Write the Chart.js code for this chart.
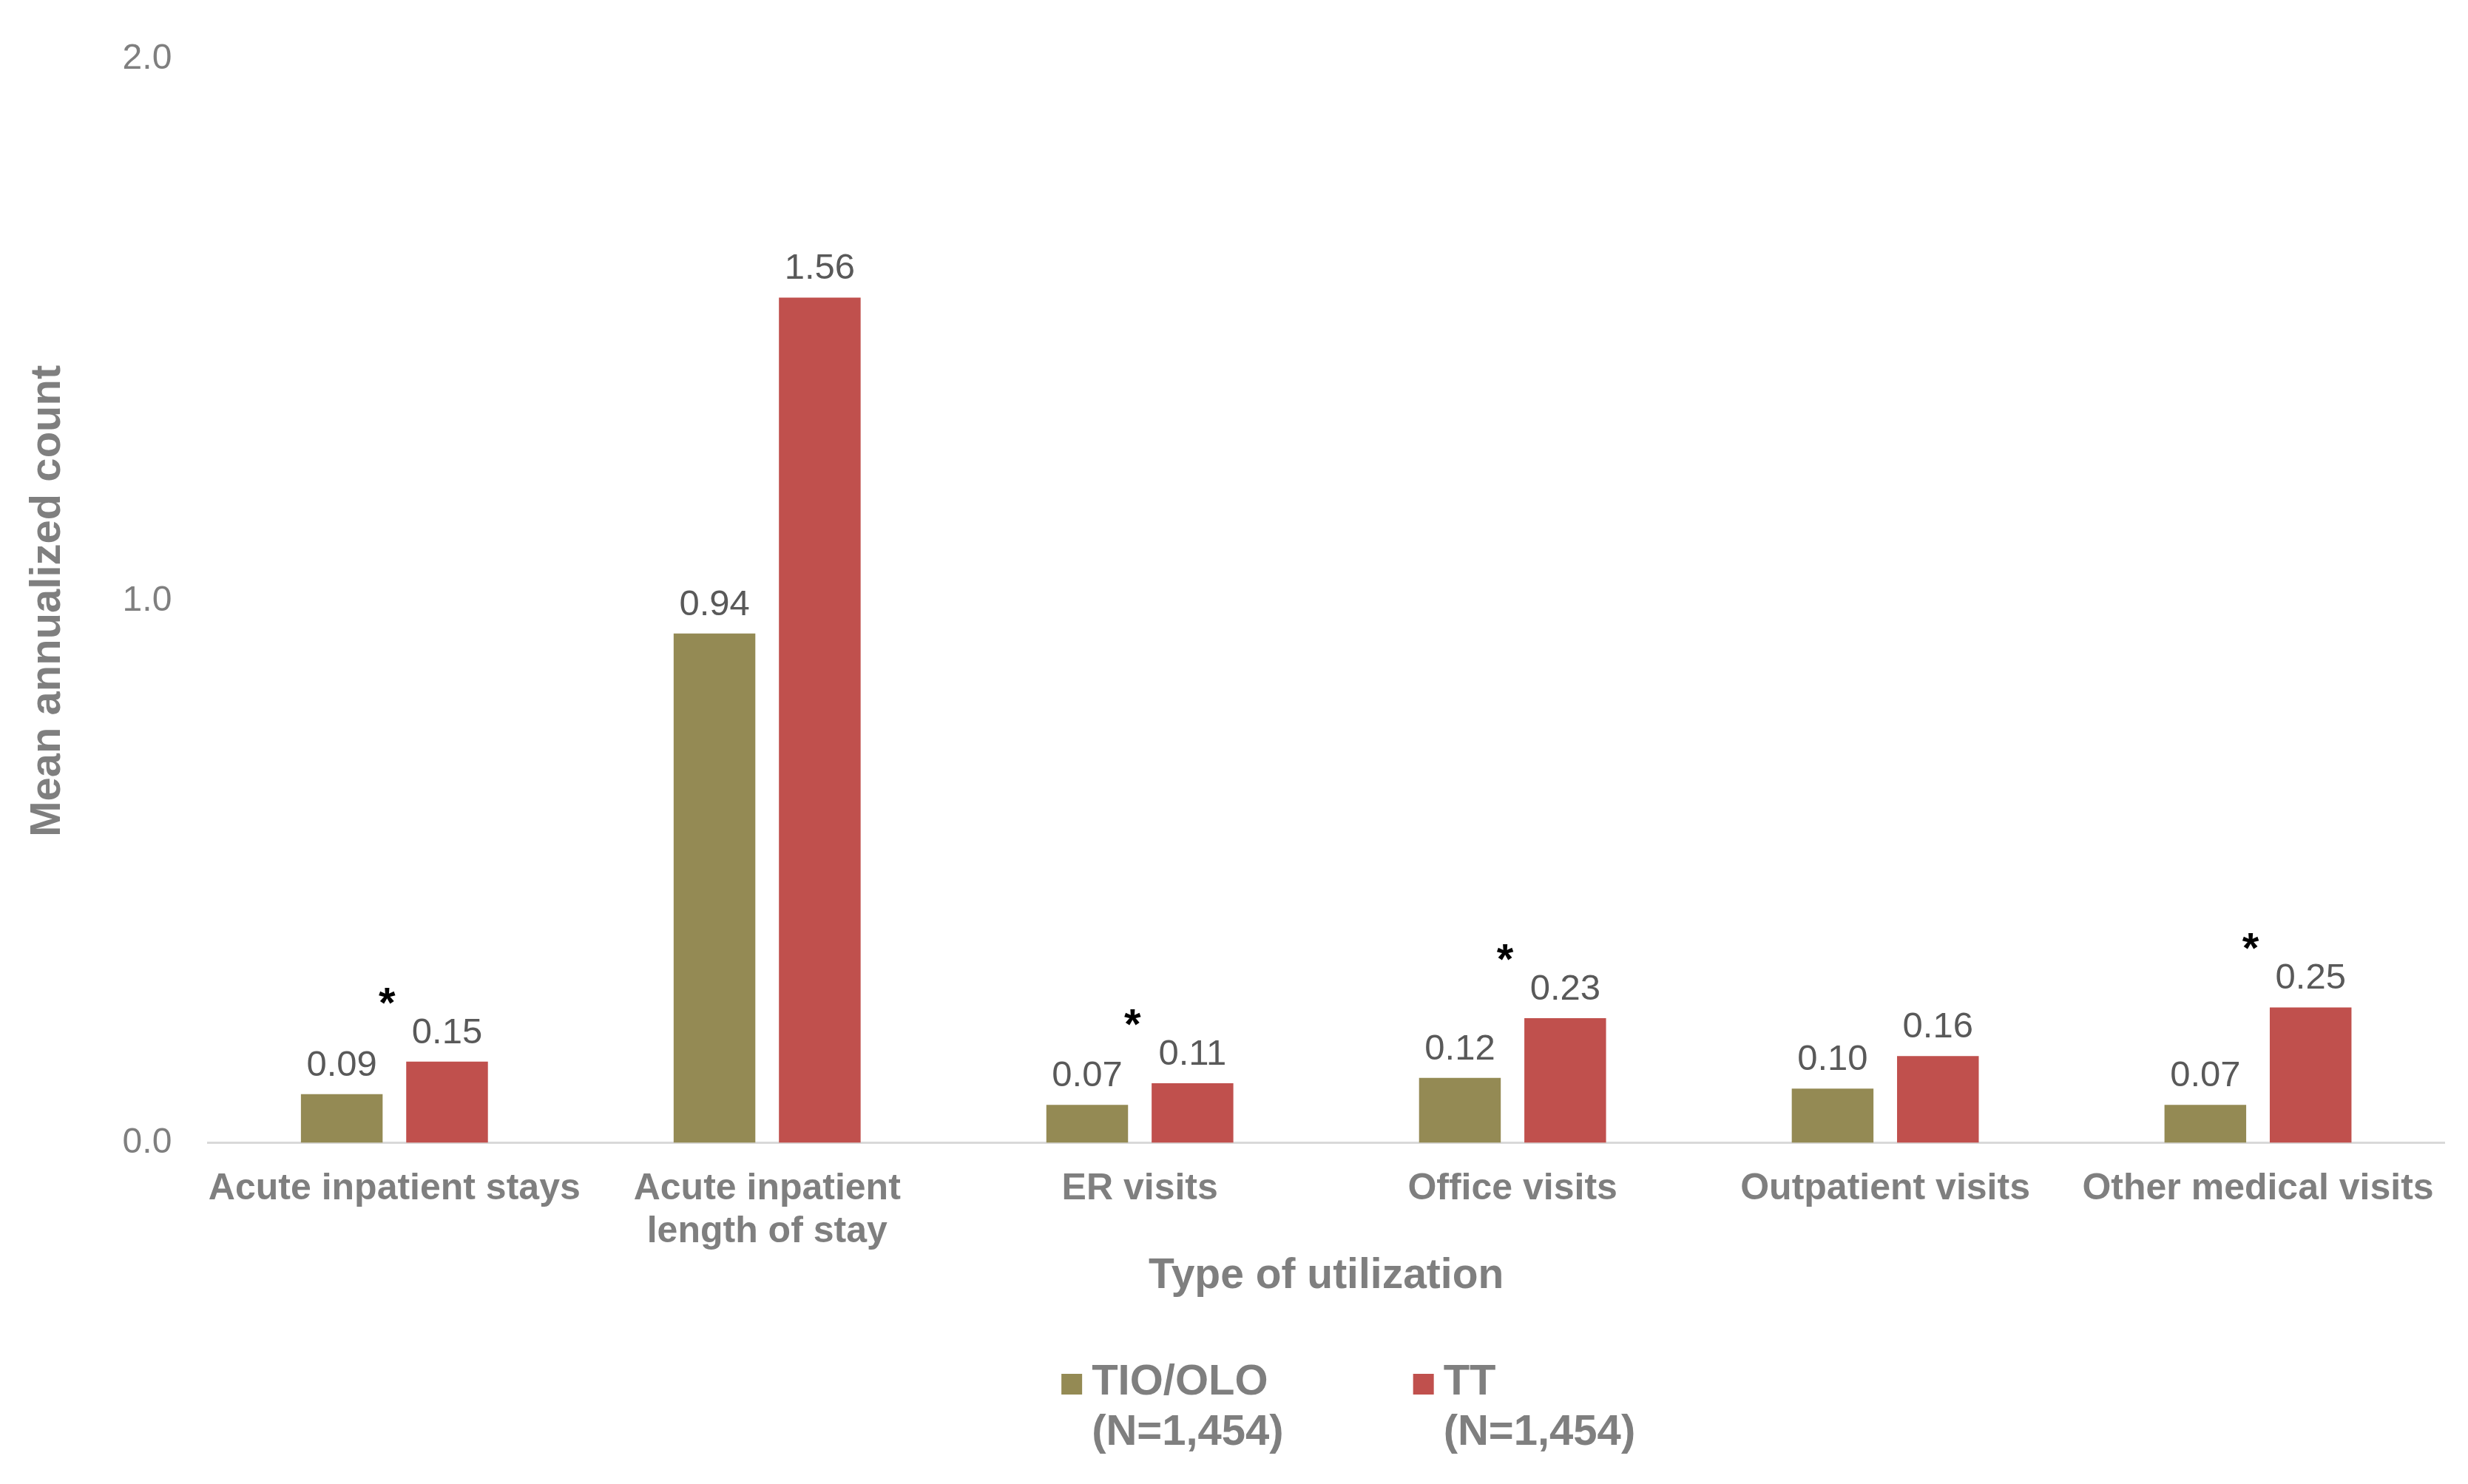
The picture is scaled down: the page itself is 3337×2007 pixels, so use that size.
<!DOCTYPE html>
<html>
<head>
<meta charset="utf-8">
<script src="https://cdn.jsdelivr.net/npm/chart.js@4.4.1/dist/chart.umd.min.js"></script>
<style>
    html, body { margin: 0; padding: 0; background: #fff; }
    #wrap { width: 3337px; height: 2007px; position: relative; }
</style>
</head>
<body>
<div id="wrap"><canvas id="chart"></canvas></div>
<script>
const categories = [
    'Acute inpatient stays',
    ['Acute inpatient', 'length of stay'],
    'ER visits',
    'Office visits',
    'Outpatient visits',
    'Other medical visits',
];
const tioOloValues = [0.09, 0.94, 0.07, 0.12, 0.10, 0.07];
const ttValues = [0.15, 1.56, 0.11, 0.23, 0.16, 0.25];
// groups marked with * in the source figure
const significant = [true, false, true, true, false, true];
const seriesLabels = [['TIO/OLO', '(N=1,454)'], ['TT', '(N=1,454)']];
const yTicks = [0, 1, 2];

const FONT = 'Liberation Sans, Arial, Helvetica, sans-serif';
const GREY = '#7f7f7f';

// value labels above bars + significance stars
const barLabels = {
    id: 'barLabels',
    afterDatasetsDraw(chart) {
        const { ctx } = chart;
        ctx.save();
        ctx.font = `49px ${FONT}`;
        ctx.fillStyle = '#595959';
        ctx.textAlign = 'center';
        ctx.textBaseline = 'alphabetic';
        chart.data.datasets.forEach((ds, di) => {
            chart.getDatasetMeta(di).data.forEach((bar, i) => {
                ctx.fillText(ds.data[i].toFixed(2), bar.x, bar.y - 25);
            });
        });
        const a = chart.getDatasetMeta(0).data;
        const b = chart.getDatasetMeta(1).data;
        ctx.font = `bold 58px ${FONT}`;
        ctx.fillStyle = '#000';
        significant.forEach((s, i) => {
            if (!s) return;
            const x = (a[i].x + b[i].x) / 2 - 10;
            ctx.fillText('*', x, b[i].y - 93 + 33);
        });
        ctx.restore();
    },
};

// two-line legend under the axis title
const bottomLegend = {
    id: 'bottomLegend',
    afterDraw(chart) {
        const { ctx, chartArea } = chart;
        const size = 58, lh = 68, box = 28, gap = 13, spacing = 175;
        ctx.save();
        ctx.font = `bold ${size}px ${FONT}`;
        ctx.textBaseline = 'middle';
        ctx.textAlign = 'left';
        const widths = seriesLabels.map((lines) =>
            box + gap + Math.max(...lines.map((t) => ctx.measureText(t).width)));
        const total = widths.reduce((s, w) => s + w, 0) + spacing * (widths.length - 1);
        let x = (chartArea.left + chartArea.right) / 2 + 30 - total / 2;
        const y0 = chart.height - 137;
        chart.data.datasets.forEach((ds, i) => {
            ctx.fillStyle = ds.backgroundColor;
            ctx.fillRect(x, y0 - box / 2 + 2, box, box);
            ctx.fillStyle = GREY;
            seriesLabels[i].forEach((t, k) => ctx.fillText(t, x + box + gap, y0 + k * lh));
            x += widths[i] + spacing;
        });
        ctx.restore();
    },
};

new Chart(document.getElementById('chart'), {
    type: 'bar',
    data: {
        labels: categories,
        datasets: [
            {
                label: 'TIO/OLO (N=1,454)',
                data: tioOloValues,
                backgroundColor: '#948a54',
                categoryPercentage: 0.565,
                barPercentage: 0.776,
            },
            {
                label: 'TT (N=1,454)',
                data: ttValues,
                backgroundColor: '#c0504d',
                categoryPercentage: 0.565,
                barPercentage: 0.776,
            },
        ],
    },
    options: {
        responsive: true,
        maintainAspectRatio: false,
        animation: false,
        layout: { padding: { left: 30, right: 32, top: 80, bottom: 247 } },
        plugins: {
            legend: { display: false },
            tooltip: { enabled: false },
        },
        scales: {
            x: {
                grid: { display: false },
                border: { display: true, color: '#d9d9d9', width: 3 },
                ticks: {
                    color: GREY,
                    autoSkip: false,
                    maxRotation: 0,
                    padding: 26,
                    font: { size: 50, weight: 'bold', family: FONT, lineHeight: 1.15 },
                },
                title: {
                    display: true,
                    text: 'Type of utilization',
                    color: GREY,
                    padding: { top: -29, bottom: 0 },
                    font: { size: 57, weight: 'bold', family: FONT, lineHeight: 1.2 },
                },
            },
            y: {
                min: 0,
                max: 2,
                grid: { display: false },
                border: { display: false },
                afterBuildTicks: (scale) => { scale.ticks = yTicks.map((v) => ({ value: v })); },
                ticks: {
                    color: GREY,
                    padding: 41,
                    font: { size: 48, family: FONT },
                    callback: (v) => Number(v).toFixed(1),
                },
                title: {
                    display: true,
                    text: 'Mean annualized count',
                    color: GREY,
                    padding: { top: 0, bottom: 25 },
                    font: { size: 58, weight: 'bold', family: FONT, lineHeight: 1.2 },
                },
            },
        },
    },
    plugins: [barLabels, bottomLegend],
});
</script>
</body>
</html>
